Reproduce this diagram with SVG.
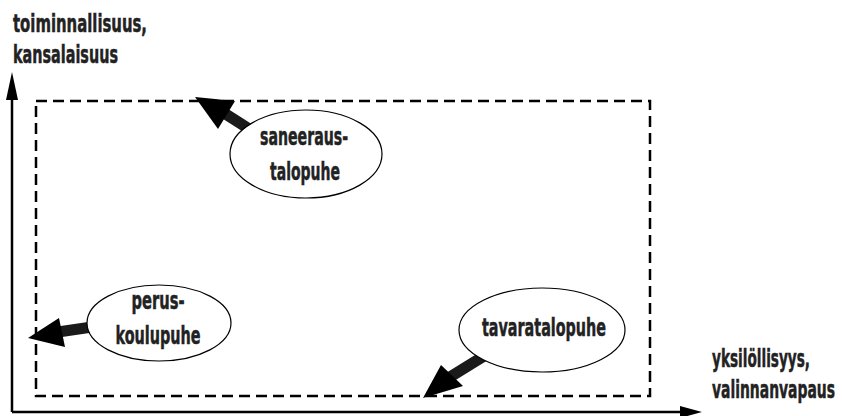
<svg xmlns="http://www.w3.org/2000/svg" width="842" height="416" viewBox="0 0 842 416">
<style>
text{font-family:"DejaVu Sans Condensed","Liberation Sans",sans-serif;font-weight:bold;font-size:25px;fill:#222;stroke:#222;stroke-width:0.5}
.c{text-anchor:middle}
.ell{fill:#fff;stroke:#000;stroke-width:1.2}
.shaft{stroke:#1a1a1a;stroke-width:11;fill:none}
.head{fill:#000}
.axis{stroke:#000;stroke-width:2.5;fill:none}
</style>
<g id="frame">
<rect x="36" y="101" width="614" height="295" fill="none" stroke="#000" stroke-width="2.5" stroke-dasharray="11,6"/>
</g>
<g id="axes">
<line class="axis" x1="12" y1="412" x2="12" y2="96"/>
<polygon class="head" points="12,72 6,100 18,100"/>
<line class="axis" x1="12" y1="412" x2="684" y2="412"/>
<polygon class="head" points="702,412 680,406 680,418"/>
</g>
<g id="labels">
<text x="13" y="32" textLength="134" lengthAdjust="spacingAndGlyphs">toiminnallisuus,</text>
<text x="13" y="63" textLength="105" lengthAdjust="spacingAndGlyphs">kansalaisuus</text>
<text x="712" y="367" textLength="98" lengthAdjust="spacingAndGlyphs">yksilöllisyys,</text>
<text x="712" y="398" textLength="123" lengthAdjust="spacingAndGlyphs">valinnanvapaus</text>
</g>
<g id="connectors">
<line class="shaft" x1="254" y1="132" x2="224" y2="113"/>
<polygon class="head" points="195,97 235,101 218,129"/>
<line class="shaft" x1="92" y1="327" x2="58" y2="332"/>
<polygon class="head" points="28,338 59,318 65,347"/>
<line class="shaft" x1="484" y1="356" x2="450" y2="377"/>
<polygon class="head" points="423,398 441,365 463,386"/>
</g>
<g id="saneeraus">
<ellipse class="ell" cx="306" cy="154" rx="76" ry="44"/>
<text class="c" x="304" y="145" textLength="88" lengthAdjust="spacingAndGlyphs">saneeraus-</text>
<text class="c" x="305" y="180" textLength="70" lengthAdjust="spacingAndGlyphs">talopuhe</text>
</g>
<g id="perus">
<ellipse class="ell" cx="159" cy="323" rx="72" ry="38"/>
<text class="c" x="158" y="309" textLength="53" lengthAdjust="spacingAndGlyphs">perus-</text>
<text class="c" x="158" y="344" textLength="85" lengthAdjust="spacingAndGlyphs">koulupuhe</text>
</g>
<g id="tavaratalo">
<ellipse class="ell" cx="542" cy="330" rx="83" ry="42"/>
<text class="c" x="544" y="336" textLength="124" lengthAdjust="spacingAndGlyphs">tavaratalopuhe</text>
</g>
</svg>
